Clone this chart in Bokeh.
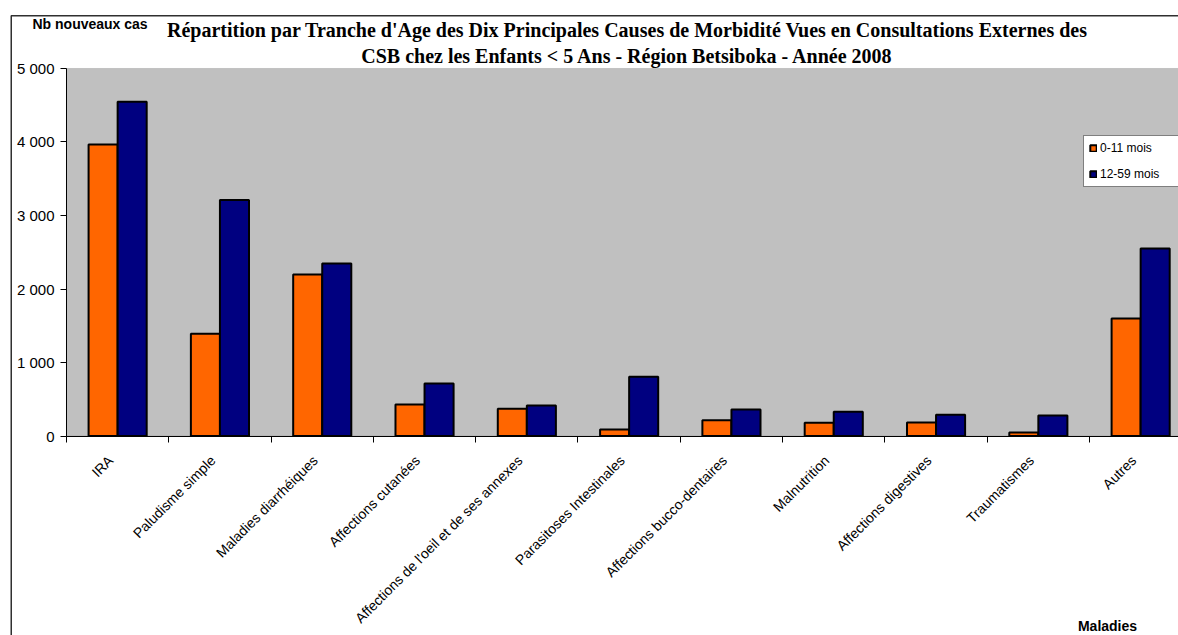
from math import pi
from bokeh.plotting import figure
from bokeh.models import (ColumnDataSource, Range1d, FixedTicker, Label, LabelSet,
                          Legend, LegendItem, BoxAnnotation)
from bokeh.transform import dodge
from bokeh.core.properties import value
from bokeh.embed import file_html
from bokeh.resources import INLINE

# ---------------- data ----------------
categories = ["IRA", "Paludisme simple", "Maladies diarrhéiques", "Affections cutanées",
              "Affections de l'oeil et de ses annexes", "Parasitoses Intestinales",
              "Affections bucco-dentaires", "Malnutrition", "Affections digestives",
              "Traumatismes", "Autres"]
infants = [3967, 1392, 2196, 429, 370, 89, 215, 180, 184, 48, 1597]      # 0-11 mois
children = [4548, 3210, 2346, 715, 415, 806, 361, 330, 289, 279, 2550]   # 12-59 mois
series_names = ["0-11 mois", "12-59 mois"]
y_ticks = [0, 1000, 2000, 3000, 4000, 5000]
y_tick_labels = ["0", "1 000", "2 000", "3 000", "4 000", "5 000"]

title_line1 = "Répartition par Tranche d'Age des Dix Principales Causes de Morbidité Vues en Consultations Externes des"
title_line2 = "CSB chez les Enfants < 5 Ans - Région Betsiboka - Année 2008"
y_title = "Nb nouveaux cas"
x_title = "Maladies"

# ---------------- source ----------------
centers = [i + 0.5 for i in range(len(categories))]
src = ColumnDataSource(dict(x=centers, cat=categories, a=infants, b=children))

W, H = 1178, 635
p = figure(width=W, height=H, x_range=Range1d(-0.645, 10.870), y_range=Range1d(-2714, 5925),
           output_backend="svg", toolbar_location=None,
           min_border_left=0, min_border_top=0, min_border_right=0, min_border_bottom=0)
p.background_fill_color = "white"
p.border_fill_color = "white"
p.outline_line_color = None
p.xgrid.visible = False
p.ygrid.visible = False

# plot area (grey)
p.add_layout(BoxAnnotation(left=0, bottom=0, top=5000, fill_color="#C0C0C0", fill_alpha=1.0,
                           line_color="#808080", line_width=1, level="underlay"))
# outer chart border
p.add_layout(BoxAnnotation(left=-0.54, top=5718, right=12, bottom=-4000,
                           fill_color=None, fill_alpha=0, line_color="#303030",
                           line_alpha=1.0, line_width=1.5))

r1 = p.vbar(x=dodge("x", -0.142, range=p.x_range), top="a", width=0.284, bottom=0,
            source=src, fill_color="#FF6600", line_color="black", line_width=2)
r2 = p.vbar(x=dodge("x", 0.142, range=p.x_range), top="b", width=0.284, bottom=0,
            source=src, fill_color="#000080", line_color="black", line_width=2)

# y axis (fixed at x = 0)
yax = p.yaxis[0]
yax.fixed_location = 0
yax.bounds = (0, 5000)
yax.ticker = FixedTicker(ticks=y_ticks)
yax.major_label_overrides = {t: l for t, l in zip(y_ticks, y_tick_labels)}
yax.major_label_text_font = "Liberation Sans"
yax.major_label_text_font_size = "15px"
yax.major_label_text_color = "black"
yax.major_tick_out = 6
yax.major_tick_in = 0
yax.minor_tick_line_color = None
yax.major_label_standoff = 6
yax.axis_line_color = "black"
yax.major_tick_line_color = "black"

# x axis (fixed at y = 0): boundary ticks only
xax = p.xaxis[0]
xax.fixed_location = 0
xax.bounds = (0, len(categories))
xax.ticker = FixedTicker(ticks=[], minor_ticks=list(range(len(categories) + 1)))
xax.minor_tick_out = 6
xax.minor_tick_in = 0
xax.minor_tick_line_color = "black"
xax.major_tick_line_color = None
xax.axis_line_color = "black"
xax.major_label_text_font_size = "0px"

# category labels
labels = LabelSet(x="x", y=0, text="cat", source=src, angle=pi / 4,
                  x_offset=-7, y_offset=-22,
                  text_align="right", text_baseline="middle",
                  text_font=value("Liberation Sans"), text_font_size=value("14px"),
                  text_color="black")
p.add_layout(labels)

# titles (screen units measured from the frame's bottom-left corner)
p.add_layout(Label(x=627, y=606, x_units="screen", y_units="screen", text=title_line1,
                   text_align="center", text_baseline="alphabetic",
                   text_font="Liberation Serif", text_font_style="bold",
                   text_font_size="20px", text_color="black"))
p.add_layout(Label(x=627, y=580, x_units="screen", y_units="screen", text=title_line2,
                   text_align="center", text_baseline="alphabetic",
                   text_font="Liberation Serif", text_font_style="bold",
                   text_font_size="20px", text_color="black"))
p.add_layout(Label(x=32, y=612, x_units="screen", y_units="screen", text=y_title,
                   text_align="left", text_baseline="alphabetic",
                   text_font="Liberation Sans", text_font_style="bold",
                   text_font_size="14px", text_color="black"))
p.add_layout(Label(x=1107, y=10, x_units="screen", y_units="screen", text=x_title,
                   text_align="center", text_baseline="alphabetic",
                   text_font="Liberation Sans", text_font_style="bold",
                   text_font_size="14px", text_color="black"))

legend = Legend(items=[LegendItem(label=series_names[0], renderers=[r1]),
                       LegendItem(label=series_names[1], renderers=[r2])],
                location=(1083, 448), orientation="vertical",
                glyph_width=8, glyph_height=8, label_height=12, label_width=73,
                label_standoff=3, spacing=12, padding=5, margin=0,
                label_text_font="Liberation Sans", label_text_font_size="12px",
                label_text_color="black",
                border_line_color="black", border_line_width=1,
                background_fill_color="white", background_fill_alpha=1.0)
p.add_layout(legend)

open("out.html", "w").write(file_html(p, INLINE))
